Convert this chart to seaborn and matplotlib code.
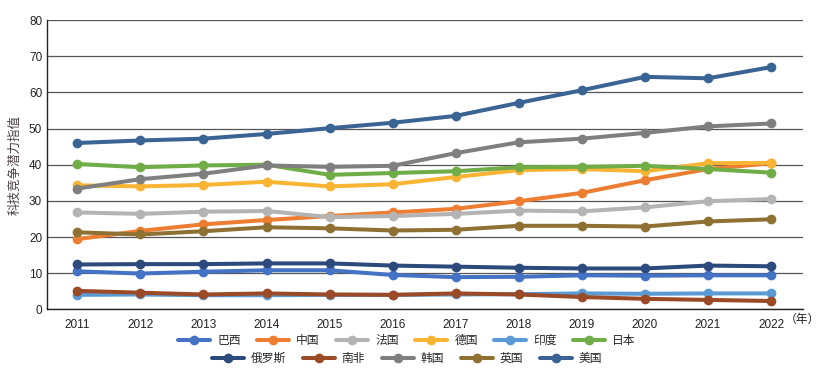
import pandas as pd
import seaborn as sns
import matplotlib.pyplot as plt

years = list(range(2011, 2023))
countries = ['巴西', '中国', '法国', '德国', '印度', '日本',
             '俄罗斯', '南非', '韩国', '英国', '美国']
colors = ['#4472C4', '#ED7D31', '#B4B4B4', '#F8B432', '#5B9BD5', '#70AD47',
          '#2C4A7C', '#9A4A26', '#7F7F7F', '#8E7132', '#3A6493']

brazil = [10.5, 9.9, 10.4, 10.8, 10.8, 9.5, 8.9, 9.0, 9.4, 9.3, 9.4, 9.4]
china = [19.4, 21.7, 23.5, 24.7, 25.8, 26.8, 27.8, 29.9, 32.2, 35.7, 38.8, 40.4]
france = [26.8, 26.4, 27.0, 27.2, 25.5, 25.8, 26.4, 27.3, 27.1, 28.2, 29.9, 30.5]
germany = [34.3, 34.0, 34.4, 35.3, 34.0, 34.6, 36.6, 38.5, 38.8, 38.2, 40.4, 40.5]
india = [4.0, 4.1, 3.9, 3.9, 4.0, 4.0, 4.1, 4.2, 4.4, 4.3, 4.4, 4.4]
japan = [40.2, 39.3, 39.8, 40.0, 37.2, 37.7, 38.2, 39.3, 39.4, 39.7, 38.8, 37.8]
russia = [12.4, 12.5, 12.5, 12.7, 12.7, 12.1, 11.8, 11.5, 11.3, 11.3, 12.1, 11.9]
south_africa = [5.1, 4.6, 4.1, 4.4, 4.1, 4.0, 4.4, 4.1, 3.4, 2.9, 2.6, 2.3]
korea = [33.4, 36.0, 37.5, 39.8, 39.4, 39.7, 43.2, 46.2, 47.2, 48.8, 50.6, 51.4]
uk = [21.3, 20.7, 21.6, 22.7, 22.4, 21.8, 22.0, 23.1, 23.1, 22.9, 24.3, 24.9]
usa = [46.0, 46.7, 47.2, 48.5, 50.1, 51.6, 53.5, 57.1, 60.6, 64.3, 63.9, 67.0]

series = [brazil, china, france, germany, india, japan,
          russia, south_africa, korea, uk, usa]

rows = []
for name, vals in zip(countries, series):
    for y, v in zip(years, vals):
        rows.append({'年份': y, '国家': name, '指值': v})
df = pd.DataFrame(rows)

sns.set_style('white')
plt.rcParams['font.family'] = ['Liberation Sans', 'Noto Sans CJK SC', 'DejaVu Sans']

fig = plt.figure(figsize=(8.19, 3.72), dpi=100)
ax = fig.add_axes([0.0574, 0.1685, 0.9226, 0.7775])

sns.lineplot(data=df, x='年份', y='指值', hue='国家',
             hue_order=countries, palette=colors, marker='o',
             markersize=7, markeredgewidth=0, linewidth=2.9, ax=ax)

ax.set_ylim(0, 80)
ax.set_yticks(range(0, 81, 10))
ax.set_xlim(2010.52, 2022.5)
ax.set_xticks(years)
ax.tick_params(axis='both', length=0, labelsize=8.5, colors='#222222')
ax.tick_params(axis='x', pad=7)
ax.yaxis.grid(True, color='#555555', linewidth=0.9)
ax.set_axisbelow(True)
for s in ['top', 'right']:
    ax.spines[s].set_visible(False)
for s in ['left', 'bottom']:
    ax.spines[s].set_color('#222222')
    ax.spines[s].set_linewidth(1.0)
ax.set_xlabel('')
ax.set_ylabel('科技竞争潜力指值', fontsize=9, color='#4d4040', labelpad=5)
ax.text(2022.22, -3.0, '（年）', fontsize=8.5, color='#222222',
        va='center', ha='left', transform=ax.transData, clip_on=False)

handles, labels = ax.get_legend_handles_labels()
ax.get_legend().remove()
for h in handles:
    h.set_markersize(7)
leg1 = fig.legend(handles[:6], labels[:6], loc='center', bbox_to_anchor=(0.497, 0.083),
                  ncol=6, frameon=False, fontsize=8.5, handlelength=2.7,
                  columnspacing=1.4, handletextpad=0.6, borderpad=0)
leg2 = fig.legend(handles[6:], labels[6:], loc='center', bbox_to_anchor=(0.497, 0.035),
                  ncol=5, frameon=False, fontsize=8.5, handlelength=2.7,
                  columnspacing=1.4, handletextpad=0.6, borderpad=0)

plt.savefig('out.png', dpi=100)
